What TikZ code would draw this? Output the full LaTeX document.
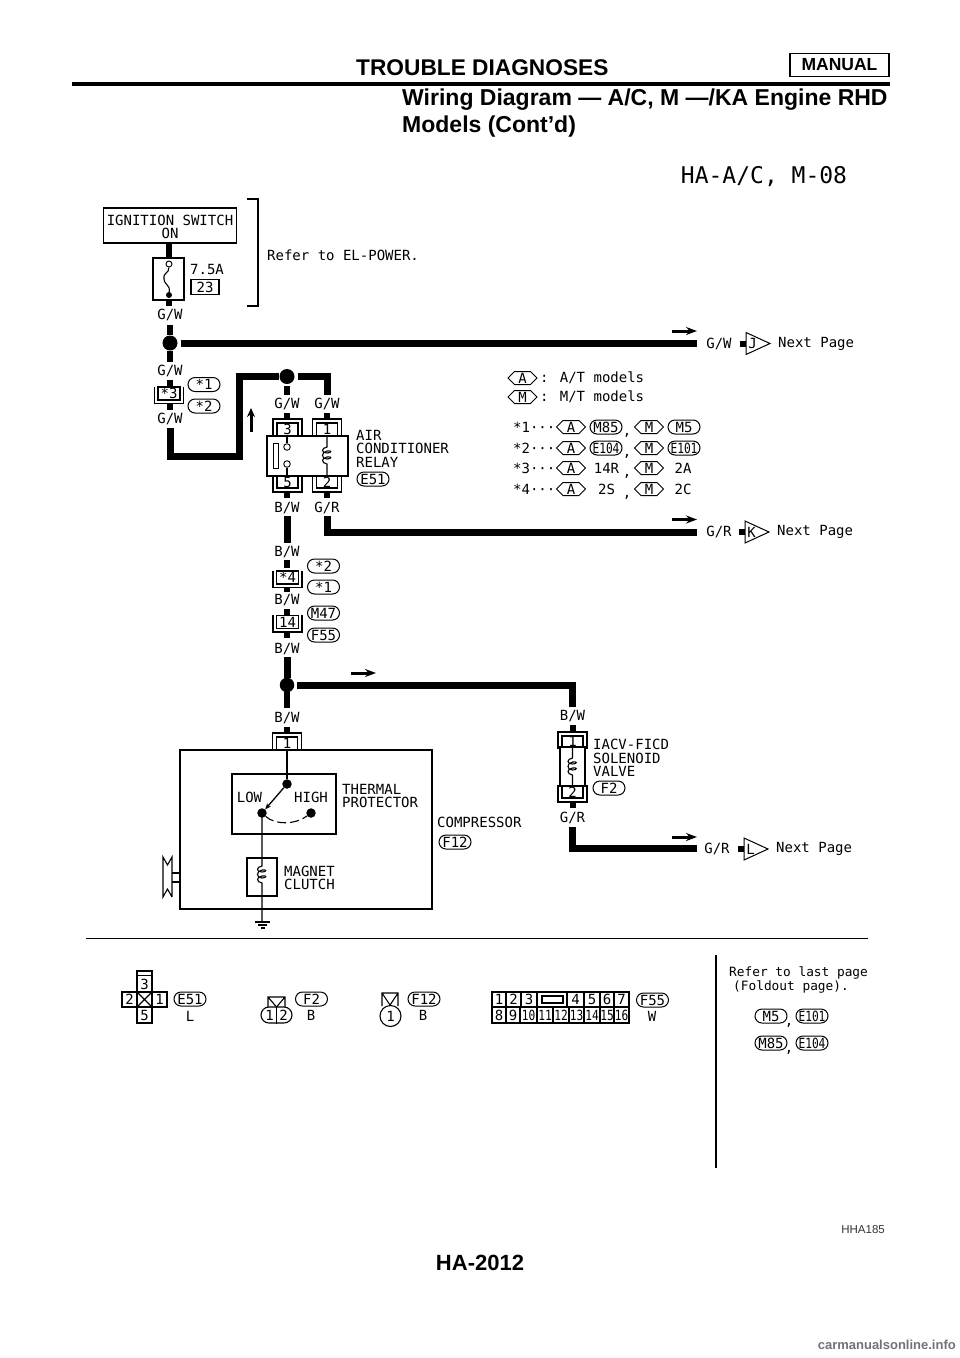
\documentclass[tikz,border=0pt]{standalone}
\usepackage{graphicx}
\usepackage{fontspec}
\setmainfont{Liberation Sans}
\newfontfamily\plot{DejaVu Sans Mono}
\usetikzlibrary{shapes.geometric,shapes.misc,arrows.meta}
\tikzset{
 x=1pt,y=-1pt,
 wire/.style={line width=7pt,line cap=butt,line join=miter},
 stub/.style={line width=6pt},
 thin line/.style={line width=1.1pt},
 lab/.style={font=\plot\fontsize{14}{13.5}\selectfont,inner sep=0pt},
 lableft/.style={lab,anchor=west,align=left},
 conn/.style={lab,draw,line width=1pt,rounded rectangle,inner sep=0pt,minimum height=14pt,minimum width=32pt},
 dot/.style={circle,fill=black,inner sep=0pt,minimum size=15pt},
 smalldot/.style={circle,fill=black,inner sep=0pt,minimum size=8pt},
 open/.style={circle,draw,fill=white,line width=.9pt,inner sep=0pt,minimum size=6.5pt},
 pinbox/.style={lab,draw,line width=1.1pt,fill=white,minimum width=22pt,minimum height=13pt},
 head/.style={font=\bfseries\fontsize{22.7}{27}\selectfont,inner sep=0pt,anchor=west},
}
\newcommand{\tight}[1]{\scalebox{.8}[1]{#1}}
\newcommand{\topshell}[2]{%
 \draw[thin line] (#1-14.5,#2+17) -- (#1-14.5,#2) -- (#1+14.5,#2) -- (#1+14.5,#2+17);
 \draw[thin line] (#1-10.5,#2+17) -- (#1-10.5,#2+4) -- (#1+10.5,#2+4) -- (#1+10.5,#2+17);}
\newcommand{\botshell}[2]{%
 \draw[thin line] (#1-14.5,#2-17) -- (#1-14.5,#2) -- (#1+14.5,#2) -- (#1+14.5,#2-17);
 \draw[thin line] (#1-10.5,#2-17) -- (#1-10.5,#2-4) -- (#1+10.5,#2-4) -- (#1+10.5,#2-17);}
\newcommand{\inlineconn}[4]{%
 \draw[thin line] (#2-14.5,#3-7) -- (#2-14.5,#3+10) -- (#2+14.5,#3+10) -- (#2+14.5,#3-7);
 \node[pinbox] (#1) at (#2,#3) {#4};}
\newcommand{\coil}[4]{% x, ytop, yloop, ybottom
 \draw[thin line] (#1,#2) -- (#1,#3) .. controls (#1-6,#3+1) and (#1-6,#3+6) .. (#1,#3+6) .. controls (#1+5,#3+6) and (#1+5,#3+3) .. (#1,#3+4)
   .. controls (#1-6,#3+5) and (#1-6,#3+12) .. (#1,#3+12) .. controls (#1+5,#3+12) and (#1+5,#3+9) .. (#1,#3+10)
   .. controls (#1-6,#3+11) and (#1-6,#3+16) .. (#1,#3+17) -- (#1,#4);}
\newcommand{\arrowr}[2]{\draw[line width=3pt,-{Stealth[length=11pt,width=8pt]}] (#1,#2) -- (#1+25,#2);}
\newcommand{\hexn}[4]{%
 \draw[line width=1pt] (#2-14.5,#3) -- (#2-8,#3-6.5) -- (#2+8,#3-6.5) -- (#2+14.5,#3) -- (#2+8,#3+6.5) -- (#2-8,#3+6.5) -- cycle;
 \node[lab] (#1) at (#2,#3) {#4};}
\begin{document}
\begin{tikzpicture}
\useasboundingbox (0,0) rectangle (960,1358);
\fill[white] (0,0) rectangle (960,1358);
% header
\node[head] (h1) at (356,68) {TROUBLE DIAGNOSES};
\node[font=\bfseries\fontsize{17.5}{20}\selectfont,draw,line width=1.5pt,minimum width=99pt,minimum height=23pt,inner sep=0pt] (h2) at (839.5,65) {MANUAL};
\draw[line width=4pt] (72,84) -- (890,84);
\node[font=\bfseries\fontsize{23}{27}\selectfont,inner sep=0pt,anchor=north west,align=left] (h3) at (402,89) {Wiring Diagram — A/C, M —/KA Engine RHD\\Models (Cont’d)};
\node[font=\plot\fontsize{23}{26}\selectfont,inner sep=0pt] (hat) at (764,177) {HA-A/C, M-08};
% ignition
\node[lab,draw,line width=1.3pt,minimum width=133pt,minimum height=35pt,align=center] (ign) at (170,225.5) {\rule{0pt}{13pt}IGNITION SWITCH\\ON};
\node[draw,line width=1.1pt,minimum width=31pt,minimum height=42pt,inner sep=0pt] (fuse) at (168.5,279) {};
\draw[stub] (ign.south -| 169,0) -- (169,258);
\draw[stub] (169,300) -- (169,306);
\node[open,minimum size=6pt] (fo) at (169,264) {};
\node[smalldot,minimum size=6pt] (fd) at (169,295) {};
\draw[thin line] (fo) .. controls (169,274) and (163,272) .. (164,279) .. controls (165,286) and (170,284) .. (fd);
\node[lableft] (t75) at (190,269) {7.5A};
\node[lab,draw,line width=1.1pt,minimum width=28pt,minimum height=15pt] (f23) at (205,287) {23};
\coordinate (br1) at (247,199); \coordinate (br2) at (258,199); \coordinate (br3) at (258,306); \coordinate (br4) at (247,306);
\draw[thin line] (br1) -- (br2) -- (br3) -- (br4);
\node[lableft] (refel) at (267,255) {Refer to EL-POWER.};
% top bus
\node[lab] (gw1) at (170,315) {G/W};
\node[dot] (j1) at (170,343) {};
\draw[stub] (170,325) -- (j1);
\coordinate (busend) at (697,343);
\draw[wire,shorten <=3pt] (j1) -- (busend);
\arrowr{672}{331}
\node[lab] (gw2) at (170,371) {G/W};
\draw[stub] (j1) -- (170,362);
\inlineconn{st3}{169}{393.5}{*3}
\draw[stub] (170,380) -- (170,387);
\draw[stub] (170,404) -- (170,410);
\node[conn] (s1a) at (204,384.5) {*1};
\node[conn] (s2a) at (204,406) {*2};
\node[lab] (gw3) at (170,419) {G/W};
\node[dot] (j2) at (287,376.5) {};
\draw[wire] (170,428) -- (170,456) -- (239,456) -- (239,376.5) -- (j2);
\draw[wire,shorten <=3pt] (j2) -- (327,376.5) -- (327,395);
\draw[line width=3pt,-{Stealth[length=9pt,width=8pt]}] (251,432) -- (251,408);
\draw[stub,shorten <=2pt] (j2) -- (287,395);
\node[lab] (gw4) at (287,404) {G/W};
\node[lab] (gw5) at (327,404) {G/W};
\draw[stub] (287,413) -- (287,419);
\draw[stub] (327,413) -- (327,419);
% relay
\topshell{287.5}{419}
\topshell{327}{419}
\botshell{287.5}{492}
\botshell{327}{492}
\node[lab] (p3) at (287.5,429) {3};
\node[lab] (p1) at (327,429) {1};
\node[lab] (p5) at (287.5,482) {5};
\node[lab] (p2) at (327,482) {2};
\node[draw,fill=white,line width=1.2pt,minimum width=81pt,minimum height=40pt,inner sep=0pt] (relay) at (307.5,456) {};
\node[draw,line width=1pt,minimum width=5pt,minimum height=25pt,inner sep=0pt] (relbar) at (275.5,455.5) {};
\node[open] (ro1) at (287,447) {};
\node[open] (ro2) at (287,464) {};
\draw[thin line] (ro1) -- (287,436);
\draw[thin line] (ro2) -- (287,476);
\coil{327}{436}{447}{476}
\node[lableft] (airc) at (356,448.5) {AIR\\CONDITIONER\\RELAY};
\node[conn] (e51) at (373,479) {E51};
\draw[stub] (287,492) -- (287,498);
\draw[stub] (327,492) -- (327,498);
\node[lab] (bw1) at (287,508) {B/W};
\node[lab] (gr1) at (327,508) {G/R};
\draw[wire] (327,516) -- (327,532) -- (697,532);
\arrowr{672}{519.5}
% right ends
\node[lab] (gwr) at (719,343.5) {G/W};
\node[lab] (grr) at (719,532) {G/R};
\node[lab] (grl) at (717,849) {G/R};
\draw[line width=6pt] (740,343.5) -- (746,343.5);
\draw[line width=6pt] (739,532) -- (745,532);
\draw[line width=6pt] (738,849) -- (744,849);
\foreach \nm/\yy/\xx in {J/343.5/746,K/532/745,L/849/744}{
 \draw[line width=1pt,fill=white] (\xx,\yy-11) -- (\xx+24,\yy) -- (\xx,\yy+11) -- cycle;
 \node[lab] (c\nm) at (\xx+6.5,\yy) {\nm};
 \node[lableft] (n\nm) at (\xx+32,\yy) {Next Page};
}
% notes
\hexn{ha}{522.5}{378}{A}
\node[lableft] (ta) at (540,378) {: A/T models};
\hexn{hm}{522.5}{397}{M}
\node[lableft] (tm) at (540,397) {: M/T models};
\foreach \yy/\n/\lA/\lM in {427/1/M85/M5,448/2/\tight{E104}/\tight{E101}}{
 \node[lableft] (st\n) at (513,\yy) {*\n···};
 \hexn{ah\n}{571}{\yy}{A}
 \node[conn] (ac\n) at (606,\yy) {\lA};
 \node[lab] (cm\n) at (627,\yy+8) {,};
 \hexn{mh\n}{649}{\yy}{M}
 \node[conn] (mc\n) at (684,\yy) {\lM};
}
\foreach \yy/\n/\lA/\lM in {468/3/14R/2A,489/4/2S/2C}{
 \node[lableft] (st\n) at (513,\yy) {*\n···};
 \hexn{ah\n}{571}{\yy}{A}
 \node[lab] (ac\n) at (606.5,\yy) {\lA};
 \node[lab] (cm\n) at (627,\yy+8) {,};
 \hexn{mh\n}{649}{\yy}{M}
 \node[lab] (mc\n) at (683,\yy) {\lM};
}
% lower column
\draw[wire] (287,516) -- (287,543);
\node[lab] (bw2) at (287,552) {B/W};
\draw[stub] (287,560) -- (287,568);
\inlineconn{st4}{287.5}{577.5}{*4}
\draw[stub] (287,588) -- (287,592);
\node[conn] (s2b) at (323.5,566) {*2};
\node[conn] (s1b) at (323.5,587) {*1};
\node[lab] (bw3) at (287,600) {B/W};
\draw[stub] (287,609) -- (287,615);
\inlineconn{st14}{287.5}{622}{14}
\draw[stub] (287,632) -- (287,638);
\node[conn] (m47) at (323.5,613) {M47};
\node[conn] (f55a) at (323.5,635) {F55};
\node[lab] (bw4) at (287,649) {B/W};
\node[dot,minimum size=14.5pt] (j3) at (287,685) {};
\draw[wire] (287,657) -- (j3);
\draw[wire,shorten <=3pt] (j3) -- (572.5,685) -- (572.5,707);
\arrowr{351}{673}
\draw[stub] (j3) -- (287,708);
\node[lab] (bw5) at (287,718) {B/W};
\draw[stub] (287,727) -- (287,733);
% compressor
\topshell{287}{733}
\node[draw,line width=1.1pt,minimum width=252pt,minimum height=159pt,inner sep=0pt,fill=white] (comp) at (306,829.5) {};
\node[lab] (p1c) at (287,743) {1};
\node[draw,line width=1.1pt,minimum width=104pt,minimum height=60pt,inner sep=0pt] (tp) at (284,804) {};
\node[lab] (low) at (249.5,797) {LOW};
\node[lab] (high) at (311,797) {HIGH};
\node[smalldot,minimum size=9.5pt] (sw1) at (287,784) {};
\node[smalldot,minimum size=9.5pt] (sw2) at (262,813) {};
\node[smalldot,minimum size=9.5pt] (sw3) at (311,813) {};
\draw[thin line] (287,750) -- (sw1);
\draw[line width=1.3pt,-{Stealth[length=6pt,width=5pt]}] (sw1) -- (sw2);
\draw[thin line,dash pattern=on 9pt off 4pt] (sw2) .. controls (275,825) and (295,825) .. (sw3);
\node[draw,line width=1.1pt,minimum width=30pt,minimum height=38pt,inner sep=0pt] (mc) at (262,877) {};
\coil{262}{813}{866}{922}
\draw[thin line] (255,922) -- (270,922) (258,925) -- (267,925) (260.5,928) -- (264.5,928);
\node[lableft] (thp) at (342,789) {THERMAL};
\node[lableft] (thp4) at (342,802) {PROTECTOR};
\node[lableft] (mag) at (284,871) {MAGNET};
\node[lableft] (clu) at (284,884) {CLUTCH};
\node[lableft] (cm) at (437,822) {COMPRESSOR};
\node[conn] (f12) at (455,842) {F12};
% pulley
\draw[thin line] (180,873) -- (172,873) (180,882) -- (172,882);
\draw[thin line] (172,897) -- (172,857) -- (167.5,865) -- (163,857) -- (163,897) -- (167.5,889) -- (172,897);
% IACV
\node[lab] (bw6) at (572.5,716) {B/W};
\draw[stub] (572.5,725) -- (572.5,732);
\topshell{572.5}{732}
\botshell{572.5}{802}
\node[lab] (pa1) at (572.5,741) {1};
\node[lab] (pa2) at (572.5,792) {2};
\node[draw,line width=1.1pt,fill=white,minimum width=25pt,minimum height=39pt,inner sep=0pt] (sol) at (572.5,766.5) {};
\coil{572.5}{747}{758}{786}
\node[lableft] (iacv) at (593,758) {IACV-FICD\\SOLENOID\\VALVE};
\node[conn] (f2a) at (609,788) {F2};
\draw[stub] (572.5,802) -- (572.5,808);
\node[lab] (gr2) at (572.5,818) {G/R};
\draw[wire] (572.5,827) -- (572.5,848.5) -- (697,848.5);
\arrowr{672}{837}
% divider
\coordinate (dl) at (86,938); \coordinate (dr) at (868,938);
\draw[line width=1pt] (dl) -- (dr);
\coordinate (vt) at (716,955); \coordinate (vb) at (716,1168);
\draw[line width=1.2pt] (vt) -- (vb);
% E51 connector
\node[lab,draw,line width=1.1pt,minimum width=15pt,minimum height=21pt,text depth=0pt] (c3) at (144.5,981.5) {};
\node[lab] (c3t) at (144.5,984) {3};
\draw[line width=1.1pt] (137,975.5) -- (152,975.5);
\node[lab,draw,line width=1.1pt,minimum width=15pt,minimum height=15pt] (c2) at (129.5,999.5) {2};
\draw[line width=1.1pt] (137,992) rectangle (152,1007) (137,992) -- (152,1007) (152,992) -- (137,1007);
\node[lab,draw,line width=1.1pt,minimum width=15pt,minimum height=15pt] (c1) at (159.5,999.5) {1};
\node[lab,draw,line width=1.1pt,minimum width=15pt,minimum height=16pt] (c5) at (144.5,1015) {5};
\node[conn] (e51b) at (190,999) {E51};
\node[lab] (cl) at (190,1016) {L};
% F2 connector
\draw[line width=1.1pt] (268,1007) -- (268,997) -- (285,997) -- (285,1007) (268,997) -- (276.5,1007) -- (285,997);
\node[draw,line width=1.1pt,rounded rectangle,minimum width=31pt,minimum height=16pt,inner sep=0pt] (f2c) at (276.5,1015) {};
\draw[line width=1.1pt] (f2c.north) -- (f2c.south);
\node[lab] (f2n1) at (269.5,1015) {1};
\node[lab] (f2n2) at (283.5,1015) {2};
\node[conn] (f2b) at (311.5,999) {F2};
\node[lab] (bb1) at (311,1015.5) {B};
% F12 connector
\draw[line width=1.1pt] (382,1006) -- (382,993) -- (398,993) -- (398,1006) (382,993) -- (390,1005) -- (398,993);
\node[lab,draw,circle,line width=1.1pt,minimum size=21pt] (f12c) at (390.5,1016) {1};
\node[conn] (f12b) at (424,999) {F12};
\node[lab] (bb2) at (423,1015.5) {B};
% 16-pin connector
\draw[line width=1.2pt] (492,992) rectangle (629,1023) (492,1007) -- (629,1007);
\foreach \xa in {506,521,537,567,584,600,614}{\draw[line width=1.1pt] (\xa,992) -- (\xa,1007);}
\foreach \xa in {506,520,537,553,569,584,600,614}{\draw[line width=1.1pt] (\xa,1007) -- (\xa,1023);}
\draw[line width=1.1pt] (542,996) rectangle (563,1003);
\foreach \xa/\t in {499/1,513.5/2,529/3,575.5/4,592/5,607/6,621.5/7}{
 \node[lab] (ta\t) at (\xa,999.5) {\t};}
\foreach \xa/\t in {499/8,513/9}{
 \node[lab] (tb\t) at (\xa,1015) {\t};}
\foreach \xa/\t in {528.5/10,545/11,561/12,576.5/13,592/14,607/15,621.5/16}{
 \node[lab] (tb\t) at (\xa,1015) {\tight{\t}};}
\node[conn] (f55b) at (652.5,1000) {F55};
\node[lab] (cw) at (652,1016) {W};
% refer
\node[lab,anchor=west,align=left,font=\plot\fontsize{12.8}{12.5}\selectfont] (rf) at (729,980) {Refer to last page\\\hspace*{4pt}(Foldout page).};
\node[conn] (m5) at (771,1016) {M5};
\node[lab] (cm7) at (789,1025) {,};
\node[conn] (e101) at (812,1016) {\tight{E101}};
\node[conn] (m85) at (771,1043) {M85};
\node[lab] (cm8) at (789,1052) {,};
\node[conn] (e104) at (812,1043) {\tight{E104}};
% footer
\node[font=\fontsize{11.5}{13}\selectfont,text=black!80,anchor=east,inner sep=0pt] (hha) at (885,1230) {HHA185};
\node[font=\bfseries\fontsize{22}{26}\selectfont,inner sep=0pt] (pg) at (480,1263) {HA-2012};
\node[font=\bfseries\fontsize{13}{15}\selectfont,text=black!55,anchor=east,inner sep=0pt] (wm) at (956,1345) {carmanualsonline.info};
\end{tikzpicture}
\end{document}
